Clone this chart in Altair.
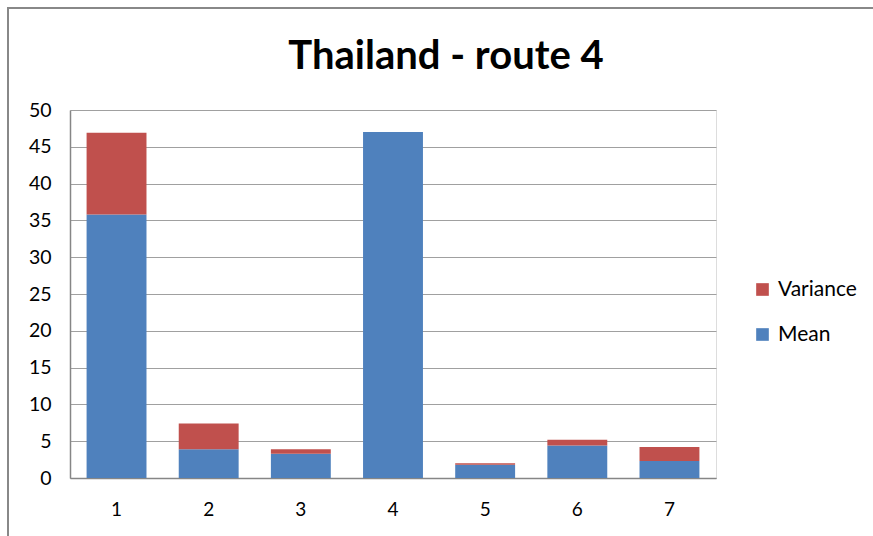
import altair as alt
import pandas as pd

categories = ["1", "2", "3", "4", "5", "6", "7"]
mean = [35.8, 3.9, 3.3, 47.0, 1.8, 4.4, 2.3]
variance = [11.1, 3.5, 0.6, 0.0, 0.2, 0.8, 1.9]
series = ["Variance", "Mean"]
colors = ["#C0504D", "#4F81BD"]
title_text = "Thailand - route 4"

rows = []
for c, m, v in zip(categories, mean, variance):
    rows.append({"cat": c, "series": "Mean", "value": m, "ord": 0})
    rows.append({"cat": c, "series": "Variance", "value": v, "ord": 1})
df = pd.DataFrame(rows)

FONT = "Lato"

bars = alt.Chart(df).mark_bar().encode(
    x=alt.X("cat:N", sort=categories, title=None,
            scale=alt.Scale(paddingInner=0.35, paddingOuter=0.18),
            axis=alt.Axis(labelAngle=0, ticks=False, labelFontSize=19, labelFont=FONT,
                          labelColor="#000000", labelPadding=22,
                          domainColor="#868686", domainWidth=1.5)),
    y=alt.Y("value:Q", stack="zero", title=None,
            scale=alt.Scale(domain=[0, 50], nice=False),
            axis=alt.Axis(values=list(range(0, 51, 5)), ticks=False, labelFontSize=19.5,
                          labelFont=FONT, labelColor="#000000", labelPadding=19,
                          domainColor="#868686", domainWidth=1.5,
                          gridColor="#A0A0A0", gridWidth=1.2)),
    color=alt.Color("series:N", scale=alt.Scale(domain=series, range=colors),
                    legend=alt.Legend(title=None, orient="none", legendX=682, legendY=169,
                                      symbolType="square", symbolSize=160,
                                      symbolStrokeWidth=0, labelFontSize=21,
                                      labelFont=FONT, labelColor="#000000",
                                      rowPadding=23, labelOffset=5)),
    order=alt.Order("ord:Q"),
)

frame = alt.Chart(df).mark_rect(fill=None, stroke="#888888", strokeWidth=2).encode(
    x=alt.value(-62), x2=alt.value(1000), y=alt.value(-102), y2=alt.value(1000)
)

title = alt.Chart(pd.DataFrame({"t": [title_text]})).mark_text(
    font=FONT, fontSize=40, fontWeight="bold", color="#000000",
    align="center", baseline="alphabetic"
).encode(text="t:N", x=alt.value(376), y=alt.value(-41))

chart = alt.layer(frame, bars, title).properties(
    width=646, height=368,
    autosize=alt.AutoSizeParams(type="none"),
    padding={"left": 70, "top": 110, "right": 157, "bottom": 58},
).configure_view(stroke=None).configure(background="white")

chart.save("out.html", embed_options={"renderer": "svg", "actions": False})
